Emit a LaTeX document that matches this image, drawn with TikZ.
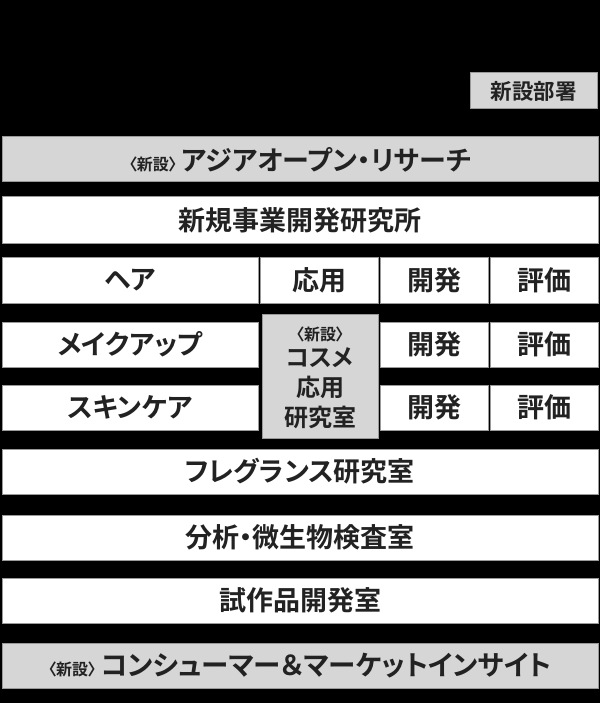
\documentclass[tikz,border=0pt]{standalone}
\usepackage{fontspec}
\newfontfamily\jp{Noto Sans CJK JP}[BoldFont={Noto Sans CJK JP Bold},RawFeature=+palt]
\definecolor{boxgray}{HTML}{D6D6D6}
\definecolor{edge}{HTML}{9A9A9A}
\definecolor{ink}{HTML}{222222}
\begin{document}
\begin{tikzpicture}[x=1pt,y=-1pt,
  cell/.style={draw=edge,line width=1pt,fill=white,inner sep=0pt,text=ink,
    font=\jp\bfseries\fontsize{27}{30}\selectfont},
  newcell/.style={cell,fill=boxgray},
  plain/.style={inner sep=0pt,text=ink,align=center}]
\fill[black] (0,0) rectangle (600,703);
\useasboundingbox (0,0) rectangle (600,703);
\newcommand{\shin}{{\fontsize{16}{18}\selectfont 〈新設〉}}
% legend
\node[newcell,minimum width=127pt,minimum height=36pt,font=\jp\bfseries\fontsize{21.5}{24}\selectfont] (legend) at (533.5,91) {新設部署};
% full-width rows
\node[newcell,minimum width=596pt,minimum height=45pt] (asia) at (300,159.5) {\shin\hspace{5pt}アジアオープン・リサーチ};
\node[cell,minimum width=596pt,minimum height=46pt] (shinki) at (300,220) {新規事業開発研究所};
% hair row
\node[cell,minimum width=256pt,minimum height=46pt] (hair) at (130,280) {ヘア};
\node[cell,minimum width=118pt,minimum height=46pt] (ouyou) at (319,280) {応用};
\node[cell,minimum width=108pt,minimum height=46pt] (kai1) at (434,280) {開発};
\node[cell,minimum width=108pt,minimum height=46pt] (hyo1) at (544,280) {評価};
% makeup row
\node[cell,minimum width=256pt,minimum height=45pt] (makeup) at (130,344.5) {メイクアップ};
\node[cell,minimum width=108pt,minimum height=45pt] (kai2) at (434,344.5) {開発};
\node[cell,minimum width=108pt,minimum height=45pt] (hyo2) at (544,344.5) {評価};
% skincare row
\node[cell,minimum width=256pt,minimum height=45pt] (skin) at (130,407.5) {スキンケア};
\node[cell,minimum width=108pt,minimum height=45pt] (kai3) at (434,407.5) {開発};
\node[cell,minimum width=108pt,minimum height=45pt] (hyo3) at (544,407.5) {評価};
% cosme lab
\node[newcell,minimum width=116pt,minimum height=124pt] (cosme) at (320,376) {};
\node[plain,font=\jp\bfseries\fontsize{24}{30}\selectfont] (cosmetext) at (320,378)
  {\shin\\[-4pt]コスメ\\応用\\研究室};
% lower rows
\node[cell,minimum width=596pt,minimum height=45pt] (frag) at (300,471.5) {フレグランス研究室};
\node[cell,minimum width=596pt,minimum height=45pt] (anal) at (300,537.5) {分析・微生物検査室};
\node[cell,minimum width=596pt,minimum height=45pt] (trial) at (300,600.5) {試作品開発室};
\node[newcell,minimum width=596pt,minimum height=45pt] (cons) at (300,665.5) {\shin\hspace{5pt}{\fontsize{27.5}{30}\selectfont コンシューマー＆マーケットインサイト}};
\end{tikzpicture}
\end{document}
